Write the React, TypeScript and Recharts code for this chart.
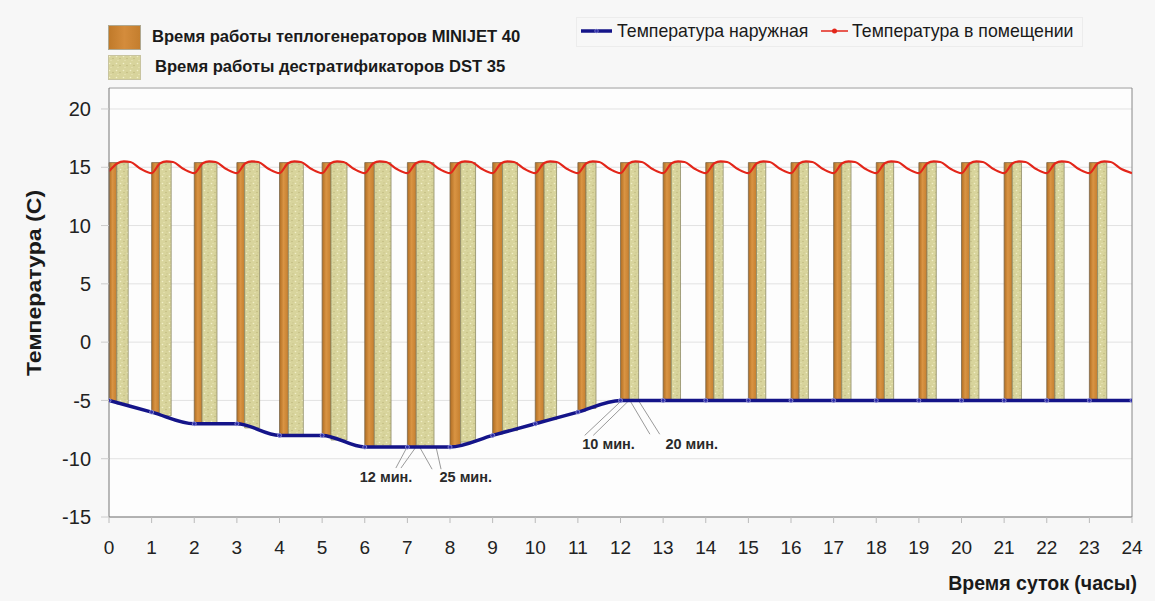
import React from 'react';
import {
  ComposedChart, Line, XAxis, YAxis, CartesianGrid, ReferenceArea, ReferenceLine, Scatter,
} from 'recharts';

// ---------- data ----------
const hours = [0, 1, 2, 3, 4, 5, 6, 7, 8, 9, 10, 11, 12, 13, 14, 15, 16, 17, 18, 19, 20, 21, 22, 23, 24];
const outdoorTemp = [-5, -6, -7, -7, -8, -8, -9, -9, -9, -8, -7, -6, -5, -5, -5, -5, -5, -5, -5, -5, -5, -5, -5, -5, -5];

// run time of heat generators (orange) and destratificators (yellow), minutes per hour
const heaterMinutes = [11, 11, 11, 11, 12.5, 12.5, 13.5, 12.5, 15, 14, 12.5, 11.5, 12.5, 11.5, 11.5, 11.5, 11.5, 11.5, 11.5, 11.5, 11.5, 11.5, 11.5, 11.5];
const destratMinutes = [16, 16.5, 21, 21, 21, 22.5, 23.5, 25, 21, 21, 17.5, 14, 13, 13, 13, 13, 13, 13, 13, 13, 13, 13, 13, 13];
const barTop = 15.4;

// indoor temperature (time in hours, temperature)
const indoorTimes = [
  0, 0.2, 0.35, 0.5, 0.75,
  1, 1.2, 1.35, 1.5, 1.75,
  2, 2.2, 2.35, 2.5, 2.75,
  3, 3.2, 3.35, 3.5, 3.75,
  4, 4.2, 4.35, 4.5, 4.75,
  5, 5.2, 5.35, 5.5, 5.75,
  6, 6.2, 6.35, 6.5, 6.75,
  7, 7.2, 7.35, 7.5, 7.75,
  8, 8.2, 8.35, 8.5, 8.75,
  9, 9.2, 9.35, 9.5, 9.75,
  10, 10.2, 10.35, 10.5, 10.75,
  11, 11.2, 11.35, 11.5, 11.75,
  12, 12.2, 12.35, 12.5, 12.75,
  13, 13.2, 13.35, 13.5, 13.75,
  14, 14.2, 14.35, 14.5, 14.75,
  15, 15.2, 15.35, 15.5, 15.75,
  16, 16.2, 16.35, 16.5, 16.75,
  17, 17.2, 17.35, 17.5, 17.75,
  18, 18.2, 18.35, 18.5, 18.75,
  19, 19.2, 19.35, 19.5, 19.75,
  20, 20.2, 20.35, 20.5, 20.75,
  21, 21.2, 21.35, 21.5, 21.75,
  22, 22.2, 22.35, 22.5, 22.75,
  23, 23.2, 23.35, 23.5, 23.75,
  24,
];
const indoorTemps = [
  14.65, 15.35, 15.5, 15.45, 14.85,
  14.5, 15.35, 15.5, 15.45, 14.85,
  14.5, 15.35, 15.5, 15.45, 14.85,
  14.5, 15.35, 15.5, 15.45, 14.85,
  14.5, 15.35, 15.5, 15.45, 14.85,
  14.5, 15.35, 15.5, 15.45, 14.85,
  14.5, 15.35, 15.5, 15.45, 14.85,
  14.5, 15.35, 15.5, 15.45, 14.85,
  14.5, 15.35, 15.5, 15.45, 14.85,
  14.5, 15.35, 15.5, 15.45, 14.85,
  14.5, 15.35, 15.5, 15.45, 14.85,
  14.5, 15.35, 15.5, 15.45, 14.85,
  14.5, 15.35, 15.5, 15.45, 14.85,
  14.5, 15.35, 15.5, 15.45, 14.85,
  14.5, 15.35, 15.5, 15.45, 14.85,
  14.5, 15.35, 15.5, 15.45, 14.85,
  14.5, 15.35, 15.5, 15.45, 14.85,
  14.5, 15.35, 15.5, 15.45, 14.85,
  14.5, 15.35, 15.5, 15.45, 14.85,
  14.5, 15.35, 15.5, 15.45, 14.85,
  14.5, 15.35, 15.5, 15.45, 14.85,
  14.5, 15.35, 15.5, 15.45, 14.85,
  14.5, 15.35, 15.5, 15.45, 14.85,
  14.5, 15.35, 15.5, 15.45, 14.85,
  14.5,
];

// annotation labels and leader lines
const annotationLabels = [
  { t: 6.5, v: -11.6, text: '12 мин.' },
  { t: 8.37, v: -11.6, text: '25 мин.' },
  { t: 11.72, v: -8.7, text: '10 мин.' },
  { t: 13.67, v: -8.7, text: '20 мин.' },
];
const annotationLines = [
  [6.73, -10.8, 7.0, -8.95],
  [6.85, -10.8, 7.21, -8.95],
  [7.58, -10.9, 7.28, -8.95],
  [7.79, -10.9, 7.67, -8.95],
  [11.16, -8.0, 12.03, -5.0],
  [11.36, -8.0, 12.2, -5.0],
  [12.69, -7.9, 12.22, -5.0],
  [12.92, -7.9, 12.42, -5.0],
];

const yTicks = [-15, -10, -5, 0, 5, 10, 15, 20];

// ---------- derived tables ----------
const outdoorData = hours.map((h, i) => ({ t: h, v: outdoorTemp[i] }));
const indoorData = indoorTimes.map((t, i) => ({ t, v: indoorTemps[i] }));
const outdoorAt = (t: number) => {
  const i = Math.min(Math.floor(t), hours.length - 2);
  const f = t - hours[i];
  return outdoorTemp[i] + (outdoorTemp[i + 1] - outdoorTemp[i]) * f;
};
const bars = heaterMinutes.map((m, h) => {
  const a1 = h;
  const a2 = h + m / 60;
  const b2 = a2 + destratMinutes[h] / 60;
  return {
    h,
    heater: { x1: a1, x2: a2, y1: outdoorAt((a1 + a2) / 2), y2: barTop },
    destrat: { x1: a2, x2: b2, y1: outdoorAt((a2 + b2) / 2), y2: barTop },
  };
});

const FONT = '"Liberation Sans", Arial, Helvetica, sans-serif';

const Patterns = () => (
  <defs>
    <linearGradient id="orangeGrad" x1="0" y1="0" x2="1" y2="0">
      <stop offset="0%" stopColor="#b06d22" />
      <stop offset="45%" stopColor="#d99443" />
      <stop offset="100%" stopColor="#c47e2e" />
    </linearGradient>
    <pattern id="speckle" width="7" height="7" patternUnits="userSpaceOnUse">
      <rect width="7" height="7" fill="#d8d49c" />
      <circle cx="1.5" cy="1.5" r="0.8" fill="#f2efc8" />
      <circle cx="5" cy="3.5" r="0.7" fill="#bdb67a" />
      <circle cx="3" cy="5.5" r="0.6" fill="#efeabd" />
      <circle cx="6" cy="0.8" r="0.5" fill="#c4bd82" />
    </pattern>
  </defs>
);

const LabelShape = (props: any) => {
  const { cx, cy, payload } = props;
  return (
    <text x={cx} y={cy} textAnchor="middle" dominantBaseline="central"
      fontFamily={FONT} fontWeight="bold" fontSize={14.5} fill="#2a2a2a">
      {payload.text}
    </text>
  );
};

export default function App() {
  return (
    <div style={{ position: 'absolute', left: 0, top: 0, width: 1155, height: 601, background: '#f7f7f7', fontFamily: FONT }}>
      <ComposedChart width={1155} height={601} margin={{ top: 88, right: 23, bottom: 24, left: 0 }}>
        <Patterns />
        <CartesianGrid vertical={false} stroke="#e2e2e2" fill="#fdfdfd" />
        <XAxis type="number" dataKey="t" domain={[0, 24]} ticks={hours} interval={0}
          height={60} tickSize={6} tickMargin={18} stroke="#777"
          tick={{ fontSize: 19, fill: '#222', fontFamily: FONT }}
          tickLine={{ stroke: '#bbb' }} allowDataOverflow />
        <YAxis type="number" dataKey="v" domain={[-15, 21.8]} ticks={yTicks} interval={0} width={109}
          tickSize={8} tickMargin={10} stroke="#777"
          tick={{ fontSize: 20, fill: '#222', fontFamily: FONT }}
          tickLine={{ stroke: '#ccc' }} allowDataOverflow />
        <ReferenceLine y={21.8} stroke="#aaa" />
        <ReferenceLine x={24} stroke="#888" />
        {bars.map((b) => (
          <ReferenceArea key={'h' + b.h} x1={b.heater.x1} x2={b.heater.x2} y1={b.heater.y1} y2={b.heater.y2}
            fill="url(#orangeGrad)" fillOpacity={1} stroke="#7d6a4c" strokeWidth={0.8} />
        ))}
        {bars.map((b) => (
          <ReferenceArea key={'d' + b.h} x1={b.destrat.x1} x2={b.destrat.x2} y1={b.destrat.y1} y2={b.destrat.y2}
            fill="url(#speckle)" fillOpacity={1} stroke="#8e8a66" strokeWidth={0.8} />
        ))}
        {annotationLines.map((l, i) => (
          <ReferenceLine key={'al' + i} segment={[{ x: l[0], y: l[1] }, { x: l[2], y: l[3] }]}
            stroke="#9a9a9a" strokeWidth={1} />
        ))}
        <Line data={indoorData} dataKey="v" type="monotone" stroke="#e3261a" strokeWidth={2.2}
          dot={false} isAnimationActive={false} />
        <Line data={outdoorData} dataKey="v" type="monotone" stroke="#141489" strokeWidth={3.5}
          dot={{ r: 2, fill: '#2b2ba8', stroke: '#9a9ad8', strokeWidth: 0.8 }} isAnimationActive={false} />
        <Scatter data={annotationLabels} dataKey="v" shape={LabelShape} isAnimationActive={false} />
      </ComposedChart>

      {/* legend, left */}
      <div style={{ position: 'absolute', left: 108, top: 25, width: 33, height: 25, background: 'linear-gradient(90deg,#c07a2a,#d48c3c,#c47e2e)', border: '1px solid #b0a890', boxSizing: 'border-box' }} />
      <div style={{ position: 'absolute', left: 152, top: 27, fontSize: 16.6, fontWeight: 'bold', color: '#1a1a1a', whiteSpace: 'nowrap', lineHeight: '20px' }}>
        Время работы теплогенераторов MINIJET 40
      </div>
      <svg style={{ position: 'absolute', left: 108, top: 55 }} width={33} height={25}>
        <defs>
          <pattern id="speckleLegend" width="7" height="7" patternUnits="userSpaceOnUse">
            <rect width="7" height="7" fill="#d8d49c" />
            <circle cx="1.5" cy="1.5" r="0.8" fill="#f2efc8" />
            <circle cx="5" cy="3.5" r="0.7" fill="#bdb67a" />
            <circle cx="3" cy="5.5" r="0.6" fill="#efeabd" />
          </pattern>
        </defs>
        <rect x={0.5} y={0.5} width={32} height={24} fill="url(#speckleLegend)" stroke="#c8c4a0" />
      </svg>
      <div style={{ position: 'absolute', left: 155, top: 57, fontSize: 16.6, fontWeight: 'bold', color: '#1a1a1a', whiteSpace: 'nowrap', lineHeight: '20px' }}>
        Время работы дестратификаторов DST 35
      </div>

      {/* legend, right */}
      <div style={{ position: 'absolute', left: 576, top: 17, width: 507, height: 30, border: '1px solid #ececec', boxSizing: 'border-box' }} />
      <svg style={{ position: 'absolute', left: 580, top: 24 }} width={34} height={14}>
        <line x1={1} y1={7} x2={32} y2={7} stroke="#141489" strokeWidth={3.5} />
        <circle cx={16.5} cy={7} r={1.8} fill="#2b2ba8" stroke="#9a9ad8" strokeWidth={0.6} />
      </svg>
      <div style={{ position: 'absolute', left: 617, top: 21, fontSize: 17.7, color: '#1a1a1a', whiteSpace: 'nowrap', lineHeight: '20px' }}>
        Температура наружная
      </div>
      <svg style={{ position: 'absolute', left: 820, top: 24 }} width={30} height={14}>
        <line x1={1} y1={7} x2={28} y2={7} stroke="#e3261a" strokeWidth={1.5} />
        <circle cx={14.5} cy={7} r={2.5} fill="#e3261a" />
      </svg>
      <div style={{ position: 'absolute', left: 852, top: 21, fontSize: 17.7, color: '#1a1a1a', whiteSpace: 'nowrap', lineHeight: '20px' }}>
        Температура в помещении
      </div>

      {/* axis titles */}
      <div style={{ position: 'absolute', left: 34, top: 283, transform: 'translate(-50%,-50%) rotate(-90deg) scaleX(1.1)', fontSize: 21, fontWeight: 'bold', color: '#1a1a1a', whiteSpace: 'nowrap' }}>
        Температура (С)
      </div>
      <div style={{ position: 'absolute', right: 1155 - 1137, top: 572, fontSize: 19.5, fontWeight: 'bold', color: '#1a1a1a', whiteSpace: 'nowrap', lineHeight: '22px' }}>
        Время суток (часы)
      </div>
    </div>
  );
}
